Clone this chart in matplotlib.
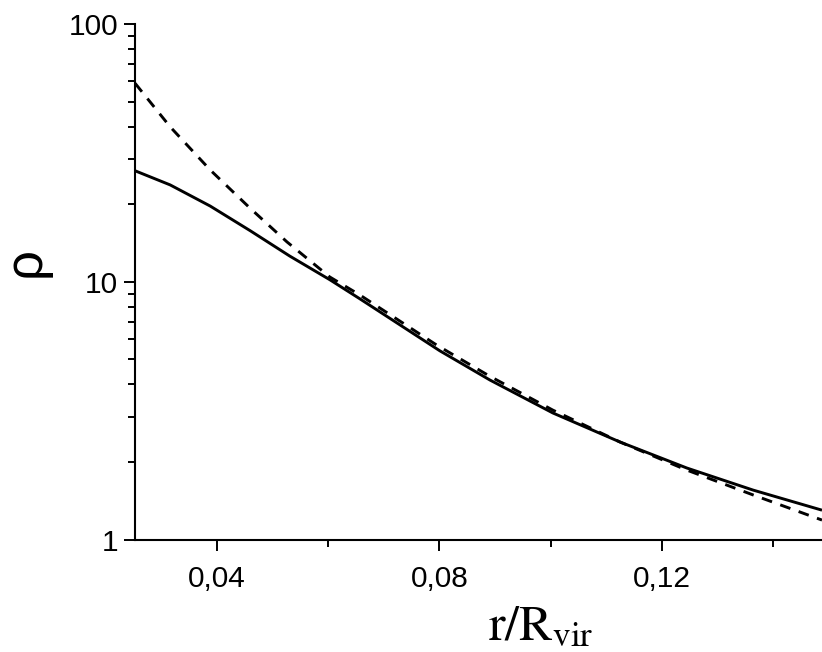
import matplotlib
matplotlib.use("Agg")
import matplotlib.pyplot as plt
from matplotlib.ticker import FixedLocator, FuncFormatter, LogLocator, NullFormatter

# Data
r_solid = [0.0253, 0.0316, 0.0388, 0.0460, 0.0531, 0.0603, 0.0657, 0.0801,
           0.0891, 0.1004, 0.1125, 0.1245, 0.1364, 0.1488]
rho_solid = [27.0, 23.8, 19.7, 15.8, 12.6, 10.2, 8.60, 5.40,
             4.16, 3.10, 2.39, 1.895, 1.556, 1.30]

r_dashed = [0.0253, 0.0316, 0.0388, 0.0460, 0.0526, 0.0603, 0.0657, 0.0795,
            0.0891, 0.1004, 0.1125, 0.1245, 0.1364, 0.1488]
rho_dashed = [59.0, 40.0, 27.2, 19.3, 14.3, 10.45, 8.90, 5.69,
              4.30, 3.18, 2.39, 1.86, 1.49, 1.19]

x_major = [0.04, 0.08, 0.12]
x_minor = [0.06, 0.10, 0.14]
x_labels = ["0,04", "0,08", "0,12"]

fig = plt.figure(figsize=(8.22, 6.52), dpi=100)
ax = fig.add_axes([0.1642, 0.1725, 1.0 - 0.1642, 0.9627 - 0.1725])

ax.plot(r_solid, rho_solid, color="black", lw=2.1, solid_capstyle="butt")
ax.plot(r_dashed, rho_dashed, color="black", lw=2.1, linestyle=(0, (3.7, 3.0)))

ax.set_yscale("log")
ax.set_xlim(0.02527, 0.1488)
ax.set_ylim(1, 100)

ax.xaxis.set_major_locator(FixedLocator(x_major))
ax.xaxis.set_minor_locator(FixedLocator(x_minor))
ax.xaxis.set_major_formatter(FuncFormatter(
    lambda v, p: x_labels[x_major.index(round(v, 2))] if round(v, 2) in x_major else ""))

ax.yaxis.set_major_locator(FixedLocator([1, 10, 100]))
ax.yaxis.set_major_formatter(FuncFormatter(lambda v, p: "%d" % round(v)))
ax.yaxis.set_minor_locator(LogLocator(base=10, subs=range(2, 10)))
ax.yaxis.set_minor_formatter(NullFormatter())

for s in ["top", "right"]:
    ax.spines[s].set_visible(False)
for s in ["left", "bottom"]:
    ax.spines[s].set_linewidth(1.5)

ax.tick_params(which="major", direction="out", length=8, width=1.4,
               labelsize=21.5)
ax.tick_params(which="minor", direction="out", length=5, width=1.4)
for lab in ax.get_xticklabels() + ax.get_yticklabels():
    lab.set_fontfamily("Liberation Sans")
ax.tick_params(axis="x", pad=10)
ax.tick_params(axis="y", pad=4)

plt.rcParams["mathtext.fontset"] = "stix"
fig.text(541 / 822, 1 - 626 / 652, r"$\mathrm{r/R_{vir}}$", fontsize=36,
         ha="center", va="center")
fig.text(26 / 822, 1 - 262 / 652, "ρ", fontsize=38, family="Liberation Sans",
         rotation=90, ha="center", va="center")

fig.savefig("out.png", dpi=100)
